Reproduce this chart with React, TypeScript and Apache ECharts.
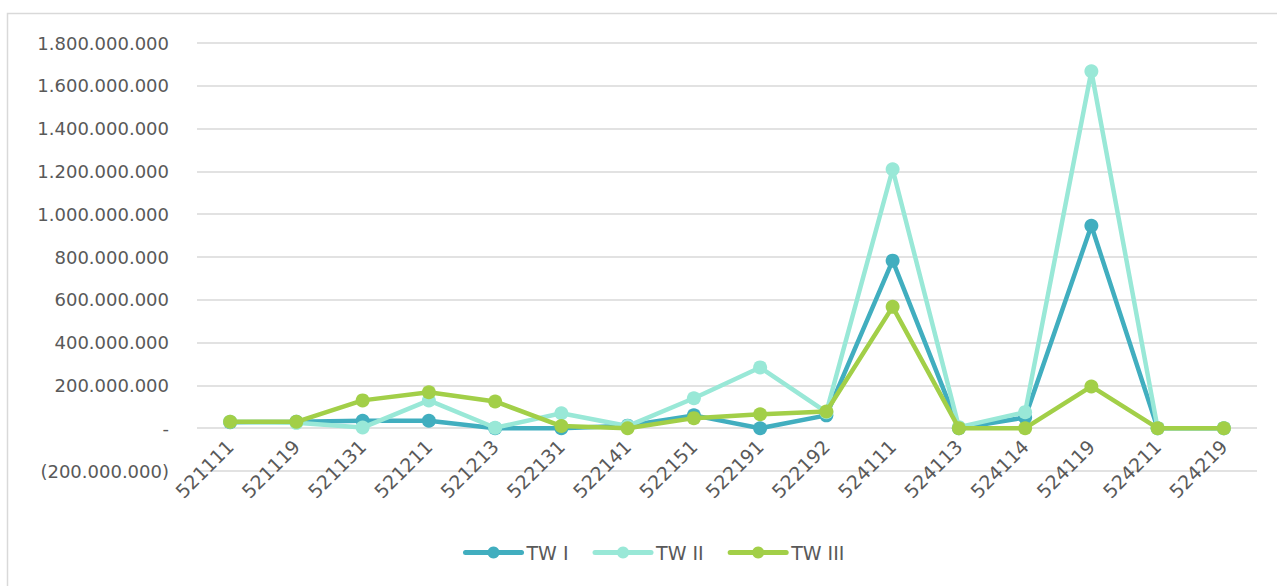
import React, { useEffect, useRef } from "react";
import * as echarts from "echarts";

const categories = [
  "521111", "521119", "521131", "521211", "521213", "522131", "522141", "522151",
  "522191", "522192", "524111", "524113", "524114", "524119", "524211", "524219",
];

const twI = [
  28e6, 30e6, 35e6, 35e6, 0, 0, 12e6, 60e6,
  0, 60e6, 783e6, 0, 50e6, 946e6, 0, 0,
];

const twII = [
  30e6, 25e6, 3e6, 130e6, 2e6, 70e6, 10e6, 140e6,
  284e6, 75e6, 1210e6, 5e6, 75e6, 1668e6, 0, 0,
];

const twIII = [
  30e6, 30e6, 130e6, 168e6, 125e6, 10e6, 0, 47e6,
  65e6, 78e6, 567e6, 0, 0, 195e6, 0, 0,
];

const seriesNames = ["TW I", "TW II", "TW III"];
const colors = ["#41AEBF", "#99E8D7", "#A2CF48"];

function fmt(v: number): string {
  if (v === 0) return "-";
  const s = Math.abs(v).toFixed(0).replace(/\B(?=(\d{3})+(?!\d))/g, ".");
  return v < 0 ? "(" + s + ")" : s;
}

const FONT = "DejaVu Sans";

export default function App() {
  const ref = useRef<HTMLDivElement>(null);
  useEffect(() => {
    if (!ref.current) return;
    const chart = echarts.init(ref.current, undefined, { renderer: "svg" });
    const data = [twI, twII, twIII];
    chart.setOption({
      animation: false,
      color: colors,
      textStyle: { fontFamily: FONT },
      grid: { left: 197, right: 20, top: 43, bottom: 115, containLabel: false },
      legend: {
        bottom: 19,
        left: 458,
        itemWidth: 56,
        itemHeight: 15,
        itemGap: 24,
        lineStyle: { width: 5, cap: "round" },
        textStyle: { color: "#595959", fontSize: 19, fontFamily: FONT },
        data: seriesNames,
      },
      xAxis: {
        type: "category",
        data: categories,
        boundaryGap: true,
        position: "bottom",
        offset: -42.8,
        axisLine: { show: false, onZero: false },
        axisTick: { show: false },
        axisLabel: { rotate: 45, color: "#595959", fontSize: 19, margin: 15, interval: 0, fontFamily: FONT },
      },
      yAxis: {
        type: "value",
        min: -200e6,
        max: 1800e6,
        interval: 200e6,
        axisLine: { show: false },
        axisTick: { show: false },
        splitLine: { lineStyle: { color: "#d9d9d9", width: 1.5 } },
        axisLabel: { color: "#595959", fontSize: 18, margin: 28, formatter: fmt, fontFamily: FONT },
      },
      graphic: [
        {
          type: "polyline",
          shape: { points: [[7.5, 586], [7.5, 13.5], [1277, 13.5]] },
          style: { stroke: "#d9d9d9", lineWidth: 1.5, fill: "none" },
          silent: true,
        },
      ],
      series: seriesNames.map((name, i) => ({
        name,
        type: "line",
        data: data[i],
        symbol: "circle",
        symbolSize: 14,
        lineStyle: { width: 4.5, color: colors[i] },
        itemStyle: { color: colors[i] },
        z: 2 + i,
      })),
    });
    return () => chart.dispose();
  }, []);
  return (
    <div
      ref={ref}
      style={{ position: "absolute", left: 0, top: 0, width: 1277, height: 586 }}
    />
  );
}
